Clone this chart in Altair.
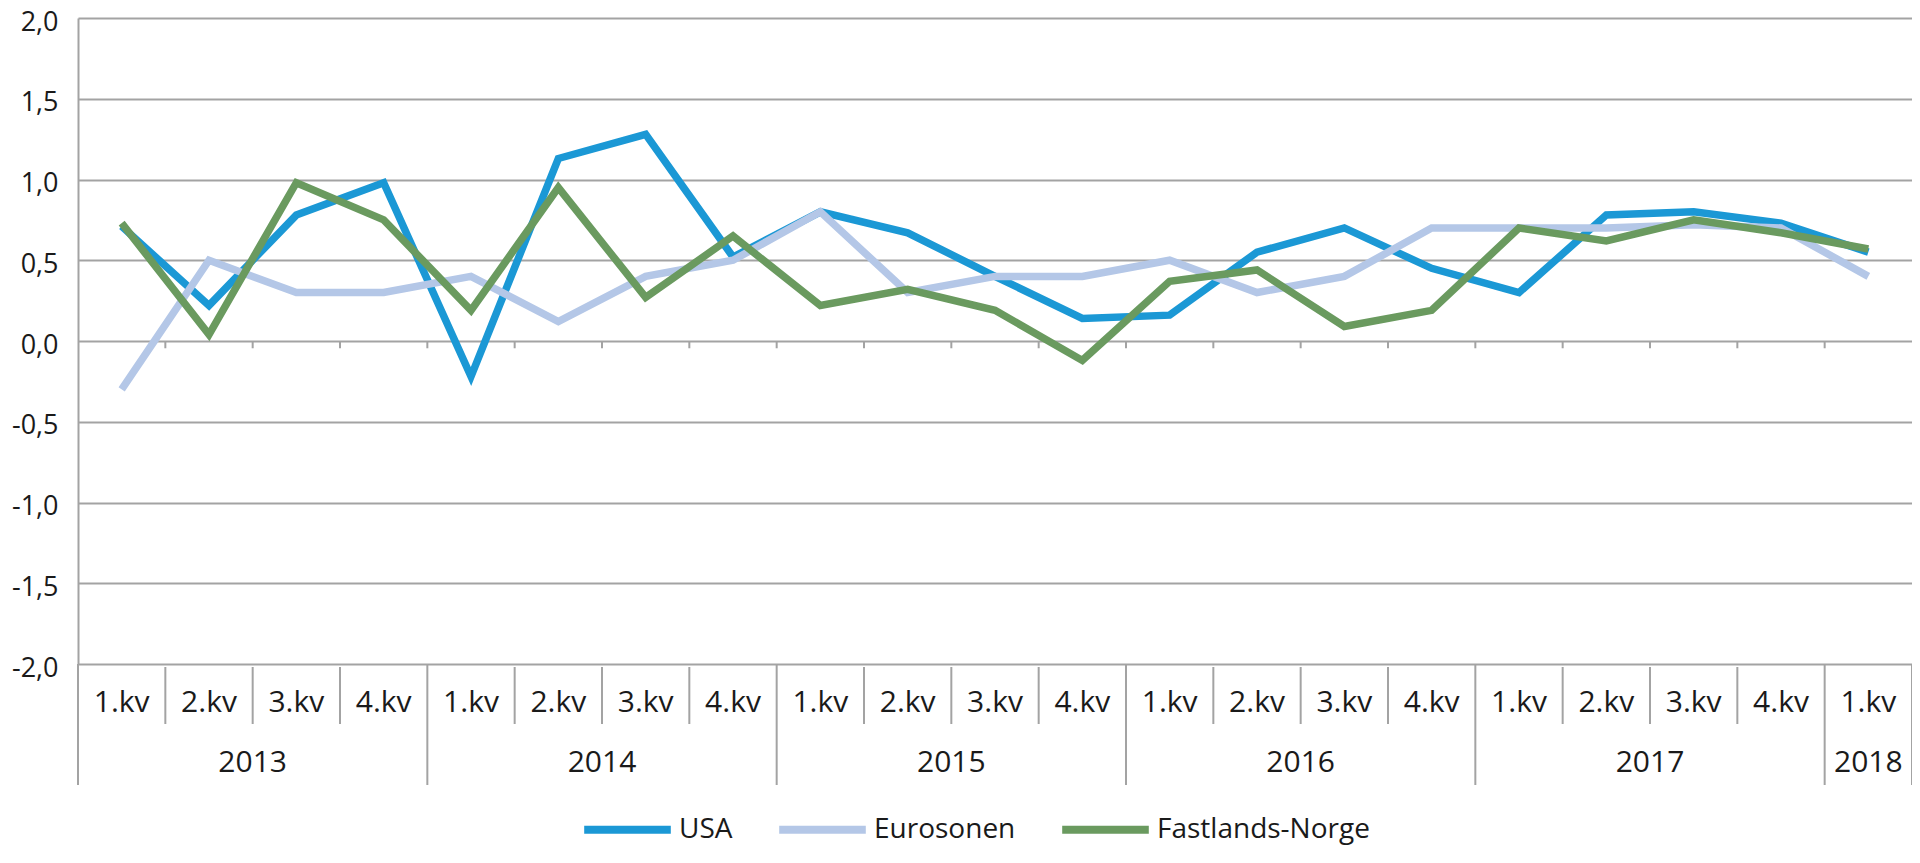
import altair as alt
import pandas as pd

# ---- data ----
quarter_labels = ["1.kv", "2.kv", "3.kv", "4.kv"] * 5 + ["1.kv"]
year_labels = ["2013", "2014", "2015", "2016", "2017", "2018"]
year_centers = [2, 6, 10, 14, 18, 20.5]
year_bounds = [0, 4, 8, 12, 16, 20, 21]
quarter_bounds = [1, 2, 3, 5, 6, 7, 9, 10, 11, 13, 14, 15, 17, 18, 19]
zero_ticks = list(range(1, 21))
y_ticks = [-2, -1.5, -1, -0.5, 0, 0.5, 1, 1.5, 2]

series = ["USA", "Eurosonen", "Fastlands-Norge"]
colors = ["#1b98d5", "#b4c7e7", "#6a9a5f"]

usa = [0.71, 0.22, 0.78, 0.98, -0.22, 1.13, 1.28, 0.52, 0.80, 0.67, 0.40,
       0.14, 0.16, 0.55, 0.70, 0.45, 0.30, 0.78, 0.80, 0.73, 0.55]
euro = [-0.30, 0.50, 0.30, 0.30, 0.40, 0.12, 0.40, 0.50, 0.80, 0.30, 0.40,
        0.40, 0.50, 0.30, 0.40, 0.70, 0.70, 0.70, 0.72, 0.70, 0.40]
norge = [0.73, 0.04, 0.98, 0.75, 0.19, 0.95, 0.27, 0.65, 0.22, 0.32, 0.19,
         -0.12, 0.37, 0.44, 0.09, 0.19, 0.70, 0.62, 0.75, 0.67, 0.57]

W, H = 1834, 646
FONT = "Open Sans"
GRID = "#a3a3a3"
TXT = "#1a1a1a"

rows = []
for name, vals in zip(series, [usa, euro, norge]):
    for i, v in enumerate(vals):
        rows.append({"serie": name, "pos": i + 0.5, "verdi": v})
df = pd.DataFrame(rows)

xs = alt.Scale(domain=[0, 21], nice=False, zero=False)
ys = alt.Scale(domain=[-2, 2], nice=False, zero=False)

label_expr = "replace(replace(format(datum.value, '.1f'), '.', ','), '\u2212', '-')"
y_axis = alt.Axis(values=y_ticks, labelExpr=label_expr, grid=True, gridColor=GRID,
                  gridWidth=2, domain=True, domainColor=GRID, domainWidth=2,
                  ticks=False, labelPadding=20, labelFont=FONT, labelFontSize=27,
                  labelColor=TXT, labelOffset=4, title=None)

lines = alt.Chart(df).mark_line(strokeWidth=7.5, strokeJoin="miter").encode(
    x=alt.X("pos:Q", scale=xs, axis=None),
    y=alt.Y("verdi:Q", scale=ys, title=None, axis=y_axis),
    color=alt.Color("serie:N",
                    scale=alt.Scale(domain=series, range=colors),
                    legend=alt.Legend(title=None, orient="none", direction="horizontal",
                                      legendX=502, legendY=764, symbolType="stroke",
                                      symbolSize=7500, symbolStrokeWidth=8,
                                      labelFont=FONT, labelFontSize=28, labelColor=TXT,
                                      labelOffset=4, labelLimit=0, columnPadding=30,
                                      padding=0)),
)

zdf = pd.DataFrame({"b": zero_ticks, "y0": [0.0] * len(zero_ticks),
                    "y1": [-0.045] * len(zero_ticks)})
zt = alt.Chart(zdf).mark_rule(color=GRID, strokeWidth=2).encode(
    x=alt.X("b:Q", scale=xs, axis=None),
    y=alt.Y("y0:Q", scale=ys, title=None, axis=y_axis),
    y2="y1:Q",
)

qsep = alt.Chart(pd.DataFrame({"b": quarter_bounds})).mark_rule(color=GRID, strokeWidth=2).encode(
    x=alt.X("b:Q", scale=xs, axis=None), y=alt.value(H + 3), y2=alt.value(H + 60)
)
ysep = alt.Chart(pd.DataFrame({"b": year_bounds})).mark_rule(color=GRID, strokeWidth=2).encode(
    x=alt.X("b:Q", scale=xs, axis=None), y=alt.value(H), y2=alt.value(H + 121)
)

qtext = alt.Chart(pd.DataFrame({"pos": [i + 0.5 for i in range(21)], "lab": quarter_labels})).mark_text(
    font=FONT, fontSize=30, color=TXT, baseline="middle", align="center"
).encode(x=alt.X("pos:Q", scale=xs, axis=None), y=alt.value(H + 39), text="lab:N")

ytext = alt.Chart(pd.DataFrame({"pos": year_centers, "lab": year_labels})).mark_text(
    font=FONT, fontSize=30, color=TXT, baseline="middle", align="center"
).encode(x=alt.X("pos:Q", scale=xs, axis=None), y=alt.value(H + 99), text="lab:N")

chart = alt.layer(zt, qsep, ysep, qtext, ytext, lines).properties(
    width=W, height=H,
    autosize=alt.AutoSizeParams(type="none"),
    padding={"left": 70, "top": 10, "right": 0, "bottom": 186},
    background="white",
).configure_view(strokeWidth=0)

chart.save("out.html", embed_options={"renderer": "svg", "actions": False})
